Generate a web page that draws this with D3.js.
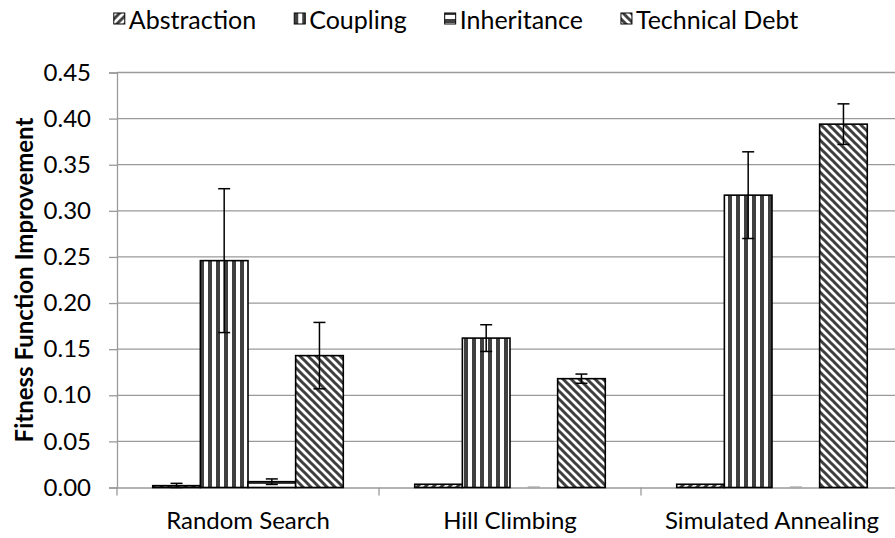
<!DOCTYPE html>
<html>
<head>
<meta charset="utf-8">
<script src="https://cdn.jsdelivr.net/npm/d3@7"></script>
<style>
  body { margin: 0; background: #fff; }
  svg text { font-family: Lato, "Open Sans", sans-serif; fill: #000; }
</style>
</head>
<body>
<div id="chart"></div>
<script>
// values
const categories = ["Random Search", "Hill Climbing", "Simulated Annealing"];
const seriesNames = ["Abstraction", "Coupling", "Inheritance", "Technical Debt"];
const abstraction = [0.002, 0.0035, 0.0035];
const abstractionErr = [0.0025, 0, 0];
const coupling = [0.246, 0.162, 0.317];
const couplingErr = [0.078, 0.0145, 0.047];
const inheritance = [0.0063, 0, 0];
const inheritanceErr = [0.003, 0.0003, 0.0003];
const techDebt = [0.143, 0.118, 0.394];
const techDebtErr = [0.036, 0.005, 0.022];
const yTicks = [0, 0.05, 0.10, 0.15, 0.20, 0.25, 0.30, 0.35, 0.40, 0.45];

const values = [abstraction, coupling, inheritance, techDebt];
const errors = [abstractionErr, couplingErr, inheritanceErr, techDebtErr];
const patternIds = ["pAbs", "pCoup", "pInh", "pTech"];

const width = 895, height = 538;
const margin = {top: 72.5, right: -8, bottom: 50.5, left: 117};

const svg = d3.select("#chart").append("svg")
    .attr("width", width)
    .attr("height", height);

// hatch patterns like the excel fills
const defs = svg.append("defs");
const ink = "#404040";

const pAbs = defs.append("pattern").attr("id", "pAbs")
    .attr("patternUnits", "userSpaceOnUse").attr("width", 8).attr("height", 8);
pAbs.append("rect").attr("width", 8).attr("height", 8).attr("fill", "#fff");
pAbs.append("path").attr("d", "M-2,2 L2,-2 M0,8 L8,0 M6,10 L10,6")
    .attr("stroke", ink).attr("stroke-width", 3);

const pCoup = defs.append("pattern").attr("id", "pCoup")
    .attr("patternUnits", "userSpaceOnUse").attr("width", 8).attr("height", 8);
pCoup.append("rect").attr("width", 8).attr("height", 8).attr("fill", "#fff");
pCoup.append("rect").attr("x", 0).attr("width", 4).attr("height", 8).attr("fill", ink);

const pInh = defs.append("pattern").attr("id", "pInh")
    .attr("patternUnits", "userSpaceOnUse").attr("width", 8).attr("height", 8);
pInh.append("rect").attr("width", 8).attr("height", 8).attr("fill", "#fff");
pInh.append("rect").attr("y", 0).attr("width", 8).attr("height", 4).attr("fill", ink);

const pTech = defs.append("pattern").attr("id", "pTech")
    .attr("patternUnits", "userSpaceOnUse").attr("width", 8).attr("height", 8);
pTech.append("rect").attr("width", 8).attr("height", 8).attr("fill", "#fff");
pTech.append("path").attr("d", "M-2,6 L2,10 M0,0 L8,8 M6,-2 L10,2")
    .attr("stroke", ink).attr("stroke-width", 3);

const x0 = d3.scaleBand()
    .domain(categories)
    .range([margin.left, width - margin.right])
    .padding(0);

const x1 = d3.scaleBand()
    .domain(seriesNames)
    .range([0, x0.bandwidth()])
    .paddingInner(0)
    .paddingOuter(0.75);

const y = d3.scaleLinear()
    .domain([0, 0.45])
    .range([height - margin.bottom, margin.top]);

// gridlines
svg.append("g")
    .selectAll("line")
    .data(yTicks.slice(1))
    .join("line")
    .attr("x1", margin.left)
    .attr("x2", width)
    .attr("y1", d => y(d))
    .attr("y2", d => y(d))
    .attr("stroke", "#9a9a9a")
    .attr("stroke-width", 1.3);

// y axis
const yAxis = svg.append("g")
    .attr("transform", `translate(${margin.left},0)`)
    .call(d3.axisLeft(y).tickValues(yTicks).tickFormat(d3.format(".2f")).tickSize(8).tickPadding(18));
yAxis.select(".domain").attr("stroke", "#9a9a9a").attr("stroke-width", 1.3);
yAxis.selectAll(".tick line").attr("stroke", "#9a9a9a").attr("stroke-width", 1.3);
yAxis.selectAll(".tick text")
    .style("font-family", "Lato, sans-serif")
    .style("font-size", "24px")
    .attr("fill", "#000");

// x axis
const xAxis = svg.append("g")
    .attr("transform", `translate(0,${y(0)})`)
    .call(d3.axisBottom(x0).tickSize(0).tickPadding(24));
xAxis.select(".domain").attr("stroke", "#9a9a9a").attr("stroke-width", 1.3);
xAxis.selectAll(".tick text")
    .style("font-family", "Lato, sans-serif")
    .style("font-size", "24px")
    .attr("fill", "#000");
svg.append("g")
    .selectAll("line")
    .data(categories)
    .join("line")
    .attr("x1", d => x0(d))
    .attr("x2", d => x0(d))
    .attr("y1", y(0))
    .attr("y2", y(0) + 8)
    .attr("stroke", "#9a9a9a")
    .attr("stroke-width", 1.3);

// y axis title
svg.append("text")
    .attr("transform", `translate(33,${(y(0) + y(0.45)) / 2}) rotate(-90)`)
    .attr("text-anchor", "middle")
    .style("font-size", "24px")
    .style("font-weight", "bold")
    .text("Fitness Function Improvement");

// bars
const rows = [];
categories.forEach((c, i) => {
    seriesNames.forEach((s, j) => {
        rows.push({cat: c, series: s, value: values[j][i], err: errors[j][i], pat: patternIds[j]});
    });
});

const bars = svg.append("g");
bars.selectAll("rect")
    .data(rows.filter(d => d.value > 0))
    .join("rect")
    .attr("x", d => x0(d.cat) + x1(d.series))
    .attr("y", d => y(d.value))
    .attr("width", x1.bandwidth())
    .attr("height", d => y(0) - y(d.value))
    .attr("fill", d => `url(#${d.pat})`)
    .attr("stroke", "#000")
    .attr("stroke-width", 1.6);

// error bars (value 0 ones come out as a faint grey cap)
const errG = svg.append("g")
    .selectAll("g")
    .data(rows.filter(d => d.err > 0))
    .join("g")
    .attr("transform", d => `translate(${x0(d.cat) + x1(d.series) + x1.bandwidth() / 2},0)`)
    .attr("stroke", d => d.value > 0 ? "#000" : "#aaa");
errG.append("line")
    .attr("y1", d => y(d.value + d.err))
    .attr("y2", d => y(Math.max(0, d.value - d.err)))
    .attr("stroke-width", 1.5);
errG.append("line")
    .attr("x1", -6).attr("x2", 6)
    .attr("y1", d => y(d.value + d.err))
    .attr("y2", d => y(d.value + d.err))
    .attr("stroke-width", 1.5);
errG.append("line")
    .attr("x1", -6).attr("x2", 6)
    .attr("y1", d => y(Math.max(0, d.value - d.err)))
    .attr("y2", d => y(Math.max(0, d.value - d.err)))
    .attr("stroke-width", 1.5);

// legend
const legend = svg.append("g");
const legendGap = 38;
let lx = 0;
seriesNames.forEach((s, j) => {
    const item = legend.append("g").attr("transform", `translate(${lx},0)`);
    item.append("rect")
        .attr("x", 0).attr("y", -6)
        .attr("width", 11).attr("height", 11)
        .attr("fill", `url(#${patternIds[j]})`)
        .attr("stroke", "#000").attr("stroke-width", 1);
    const t = item.append("text")
        .attr("x", 15).attr("y", 0)
        .attr("dominant-baseline", "central")
        .style("font-size", "25px")
        .text(s);
    lx += 15 + t.node().getComputedTextLength() + legendGap;
});
lx -= legendGap;
legend.attr("transform", `translate(${456 - lx / 2},19)`);
</script>
</body>
</html>
